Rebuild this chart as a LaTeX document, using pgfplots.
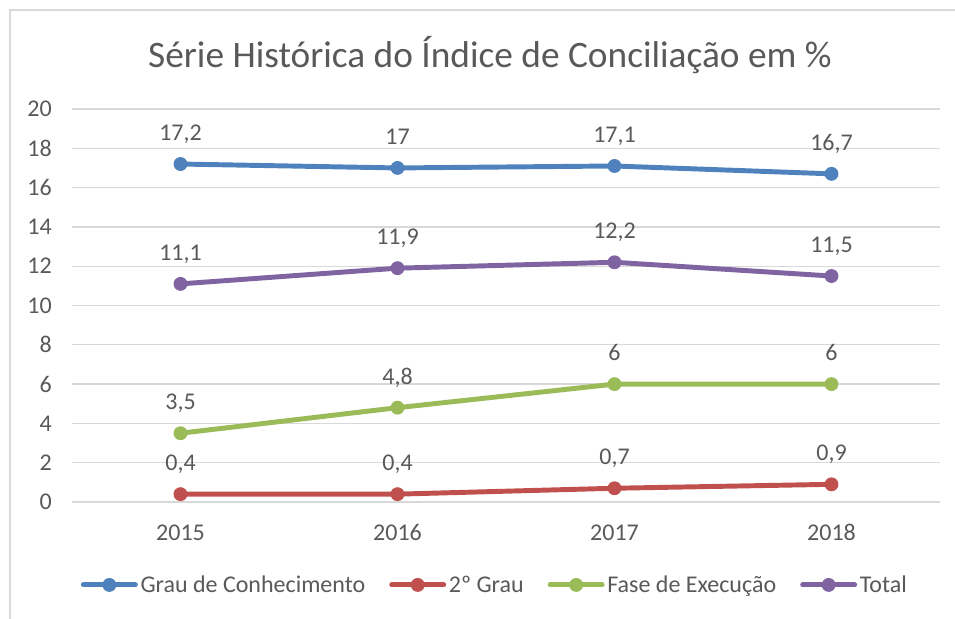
\documentclass[border=0pt]{standalone}
\usepackage{pgfplots}
\pgfplotsset{compat=1.18}
\usetikzlibrary{calc}
\usepackage{fontspec}
\setmainfont{Carlito}

\definecolor{serA}{HTML}{4F81BD}
\definecolor{serB}{HTML}{C0504D}
\definecolor{serC}{HTML}{9BBB59}
\definecolor{serD}{HTML}{8064A2}
\definecolor{txt}{HTML}{595959}
\definecolor{grd}{HTML}{D9D9D9}

\begin{document}
\begin{tikzpicture}
\begin{axis}[
  scale only axis, width=651pt, height=294.75pt,
  xmin=-0.5, xmax=3.5, ymin=0, ymax=20,
  xtick={0,1,2,3}, xticklabels={2015,2016,2017,2018},
  ytick={0,2,...,20},
  /pgf/number format/assume math mode=true,
  axis line style={draw=none},
  major tick length=0pt,
  ymajorgrids,
  major grid style={color=grd, line width=1pt},
  tick label style={text=txt, font=\fontsize{18}{22}\selectfont, inner sep=0pt},
  xticklabel style={anchor=base, yshift=-29pt},
  yticklabel style={anchor=east, xshift=-15pt},
  clip=false,
  every axis plot/.append style={line width=3.7pt, line cap=round, mark=*, mark size=4.7pt, mark options={line width=1pt}},
  nodes near coords={\pgfmathprintnumber[fixed,precision=1,use comma,assume math mode=true]{\pgfplotspointmeta}},
  every node near coord/.append style={anchor=base, yshift=17.6pt, text=txt, font=\fontsize{18}{22}\selectfont},
  legend columns=-1,
  legend style={at={(0.486,-0.211)}, anchor=center, draw=none, fill=none,
    font=\fontsize{18}{22}\selectfont, text=txt,
    nodes={inner sep=0pt},
    /tikz/every odd column/.append style={column sep=2pt},
    /tikz/every even column/.append style={column sep=18pt}},
  legend image code/.code={\draw[mark repeat=2,mark phase=2,#1] plot coordinates {(0pt,0pt) (19.5pt,0pt) (39pt,0pt)};},
]
\addplot[color=serA] coordinates {(0,17.2) (1,17) (2,17.1) (3,16.7)};
\addlegendentry{Grau de Conhecimento}
\addplot[color=serB] coordinates {(0,0.4) (1,0.4) (2,0.7) (3,0.9)};
\addlegendentry{2º Grau}
\addplot[color=serC] coordinates {(0,3.5) (1,4.8) (2,6) (3,6)};
\addlegendentry{Fase de Execução}
\addplot[color=serD] coordinates {(0,11.1) (1,11.9) (2,12.2) (3,11.5)};
\addlegendentry{Total}
\coordinate (sw) at (rel axis cs:0,0);
\end{axis}
\pgfresetboundingbox
\path[use as bounding box] ($(sw)+(-54pt,-87pt)$) rectangle ($(sw)+(662.25pt,376.5pt)$);
\draw[color=grd, line width=1pt] ($(sw)+(-46.5pt,-95pt)$) -- ($(sw)+(-46.5pt,369pt)$) -- ($(sw)+(670pt,369pt)$);
\node[text=txt, font=\fontsize{28}{32}\selectfont] at ($(sw)+(313.5pt,335.25pt)$)
  {Série Histórica do Índice de Conciliação em \%};
\end{tikzpicture}
\end{document}
